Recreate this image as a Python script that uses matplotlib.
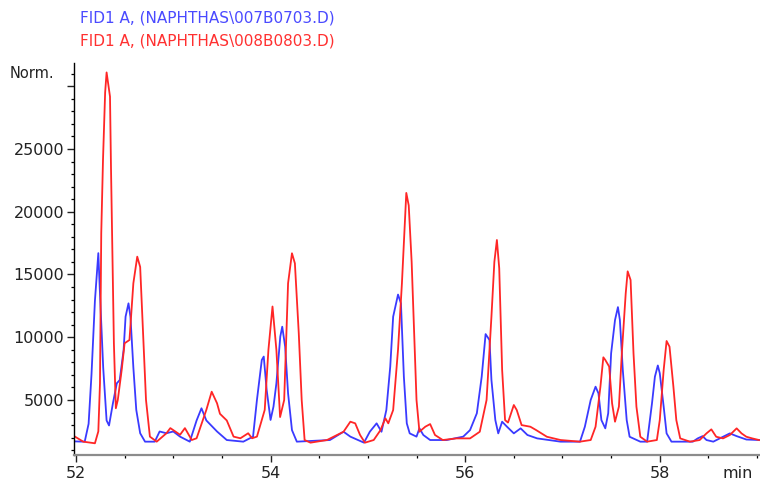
import matplotlib.pyplot as plt
from matplotlib.ticker import MultipleLocator, FixedLocator

# chromatogram traces (time in min, signal in counts)
blue_time = [51.99, 52.09, 52.13, 52.16, 52.195, 52.23, 52.25, 52.28, 52.315, 52.34,
             52.38, 52.42, 52.45, 52.49, 52.51, 52.54, 52.56, 52.59, 52.62, 52.66,
             52.71, 52.81, 52.86, 52.93, 53.00, 53.07, 53.17, 53.24, 53.29, 53.34,
             53.45, 53.55, 53.72, 53.82, 53.86, 53.91, 53.93, 53.96, 54.00, 54.03,
             54.06, 54.10, 54.12, 54.15, 54.18, 54.22, 54.27, 54.61, 54.75, 54.82,
             54.96, 55.02, 55.09, 55.14, 55.19, 55.23, 55.26, 55.31, 55.34, 55.37,
             55.40, 55.43, 55.50, 55.53, 55.57, 55.64, 55.81, 55.98, 56.05, 56.12,
             56.17, 56.21, 56.25, 56.27, 56.31, 56.34, 56.38, 56.43, 56.50, 56.57,
             56.64, 56.74, 56.98, 57.18, 57.23, 57.29, 57.34, 57.37, 57.40, 57.44,
             57.47, 57.50, 57.54, 57.57, 57.59, 57.62, 57.66, 57.69, 57.80, 57.87,
             57.92, 57.95, 57.98, 58.00, 58.04, 58.07, 58.12, 58.34, 58.39, 58.44,
             58.48, 58.55, 58.65, 58.72, 58.79, 58.89, 59.02]
blue_signal = [1700, 1680, 3100, 7060, 12900, 16700, 12900, 7590, 3370, 2970,
               4740, 6330, 6590, 8990, 11640, 12700, 11640, 7590, 4210, 2350,
               1680, 1680, 2490, 2350, 2490, 2080, 1680, 3370, 4340, 3370,
               2490, 1810, 1680, 2080, 5000, 8190, 8460, 5800, 3410, 4470,
               6330, 10050, 10840, 9250, 5530, 2600, 1680, 1810, 2470, 2080,
               1600, 2470, 3140, 2470, 4200, 7660, 11640, 13400, 12700, 6860,
               3140, 2340, 2080, 2740, 2210, 1810, 1810, 2080, 2600, 3940,
               6860, 10250, 9780, 6590, 3400, 2340, 3270, 2870, 2340, 2740,
               2210, 1940, 1680, 1680, 2870, 5000, 6060, 5530, 3400, 2740,
               3940, 8720, 11370, 12400, 11370, 7390, 3400, 2070, 1680, 1680,
               4730, 6860, 7750, 7130, 4470, 2340, 1680, 1680, 1940, 2120,
               1810, 1680, 2070, 2340, 2120, 1850, 1810]

red_time = [51.99, 52.075, 52.195, 52.23, 52.247, 52.26, 52.278, 52.30, 52.315, 52.335,
            52.35, 52.36, 52.39, 52.41, 52.43, 52.47, 52.50, 52.55, 52.59, 52.63,
            52.66, 52.69, 52.72, 52.76, 52.83, 52.93, 52.97, 53.02, 53.07, 53.12,
            53.19, 53.24, 53.34, 53.395, 53.45, 53.48, 53.55, 53.62, 53.69, 53.77,
            53.81, 53.86, 53.94, 53.978, 54.02, 54.06, 54.098, 54.14, 54.18, 54.22,
            54.25, 54.29, 54.32, 54.35, 54.41, 54.58, 54.75, 54.82, 54.87, 54.92,
            54.97, 55.06, 55.13, 55.18, 55.21, 55.26, 55.31, 55.35, 55.37, 55.395,
            55.42, 55.45, 55.47, 55.50, 55.53, 55.59, 55.64, 55.69, 55.77, 55.91,
            56.05, 56.15, 56.22, 56.27, 56.30, 56.326, 56.35, 56.38, 56.41, 56.44,
            56.50, 56.53, 56.58, 56.67, 56.73, 56.84, 56.98, 57.18, 57.29, 57.34,
            57.39, 57.42, 57.44, 57.48, 57.51, 57.54, 57.58, 57.61, 57.65, 57.67,
            57.70, 57.73, 57.76, 57.80, 57.87, 57.97, 58.00, 58.04, 58.07, 58.10,
            58.14, 58.17, 58.21, 58.31, 58.41, 58.48, 58.53, 58.58, 58.65, 58.72,
            58.79, 58.84, 58.89, 58.95, 59.02]
red_signal = [2080, 1680, 1550, 2500, 6330, 18280, 24120, 29500, 31100, 30000,
              29170, 23590, 9520, 4340, 5000, 7390, 9520, 9780, 14300, 16420,
              15600, 10310, 5000, 2080, 1680, 2350, 2760, 2490, 2230, 2760,
              1810, 1950, 4210, 5660, 4740, 3900, 3370, 2080, 1950, 2350,
              1950, 2080, 4210, 8990, 12450, 8990, 3640, 5000, 14300, 16690,
              15890, 10310, 5000, 1810, 1600, 1810, 2470, 3270, 3140, 2210,
              1600, 1810, 2600, 3540, 3140, 4200, 9010, 14290, 17500, 21500,
              20500, 16000, 11640, 5000, 2470, 2870, 3080, 2210, 1810, 1940,
              1940, 2470, 5000, 11640, 16000, 17750, 15500, 7390, 3400, 3200,
              4600, 4200, 3000, 2870, 2600, 2070, 1810, 1680, 1810, 2870,
              6060, 8400, 8190, 7660, 4730, 3270, 4470, 8720, 13500, 15250,
              14560, 8720, 4470, 2070, 1680, 1810, 3400, 7390, 9700, 9250,
              6060, 3400, 1940, 1680, 1810, 2340, 2660, 2070, 1940, 2210,
              2740, 2340, 2070, 1940, 1810]

blue_label = 'FID1 A, (NAPHTHAS\\007B0703.D)'
red_label = 'FID1 A, (NAPHTHAS\\008B0803.D)'

fig = plt.figure(figsize=(7.6, 4.84), dpi=100)
ax = fig.add_axes([74 / 760, 29 / 484, 686 / 760, 392 / 484])

ax.plot(blue_time, blue_signal, color='#3a3aff', lw=1.3)
ax.plot(red_time, red_signal, color='#ff2626', lw=1.3)

ax.set_xlim(51.98, 59.03)
ax.set_ylim(617, 31850)

# axes look: only left and bottom, ticks outward
ax.spines['top'].set_visible(False)
ax.spines['right'].set_visible(False)
ax.spines['bottom'].set_color('#8c8c8c')
ax.spines['bottom'].set_linewidth(1.6)
ax.spines['left'].set_linewidth(1.0)

ax.xaxis.set_major_locator(FixedLocator([52, 54, 56, 58]))
ax.xaxis.set_minor_locator(MultipleLocator(0.5))
ax.yaxis.set_major_locator(FixedLocator([5000, 10000, 15000, 20000, 25000, 30000]))
ax.yaxis.set_minor_locator(MultipleLocator(1000))
ax.set_yticklabels(['5000', '10000', '15000', '20000', '25000', ''])
ax.tick_params(axis='both', which='major', direction='out', length=5, width=1.0,
               labelsize=11.5, colors='#222222')
ax.tick_params(axis='both', which='minor', direction='out', length=2.5, width=0.9)
ax.tick_params(axis='x', pad=3)
ax.tick_params(axis='y', pad=2)

fig.text(10 / 760, 1 - 73 / 484, 'Norm.', fontsize=10.5, va='center', ha='left', color='#222222')
fig.text(722 / 760, 1 - 474 / 484, 'min', fontsize=11.5, va='center', ha='left', color='#222222')

fig.text(80 / 760, 1 - 18 / 484, blue_label, fontsize=11, color='#4a4aff', va='center', ha='left')
fig.text(80 / 760, 1 - 41 / 484, red_label, fontsize=11, color='#ff3030', va='center', ha='left')

plt.savefig('out.png', dpi=100)
plt.close()
